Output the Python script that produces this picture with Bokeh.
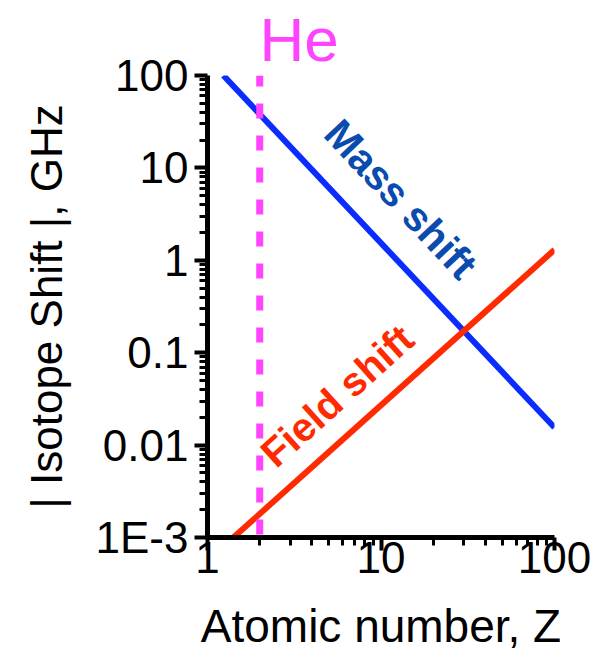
from bokeh.plotting import figure
from bokeh.models import FixedTicker, Label
from bokeh.embed import file_html
from bokeh.resources import INLINE

# ---- data ----
mass_z = [1.235, 100.0]
mass_shift = [100.0, 0.0155]
field_z = [1.41, 100.0]
field_shift = [0.001, 1.3]
he_z = [2.0, 2.0]
he_y = [100.0, 0.001]

x_ticks = [1, 10, 100]
x_tick_labels = ["1", "10", "100"]
y_ticks = [0.001, 0.01, 0.1, 1, 10, 100]
y_tick_labels = ["1E-3", "0.01", "0.1", "1", "10", "100"]

FONT = "Liberation Sans"

def minors(lo_exp, hi_exp):
    out = []
    for e in range(lo_exp, hi_exp):
        for k in range(2, 10):
            out.append(k * 10.0 ** e)
    return out

p = figure(width=615, height=654, x_axis_type="log", y_axis_type="log",
           x_range=(1, 100), y_range=(0.001, 100),
           output_backend="svg", toolbar_location=None,
           min_border_left=207, min_border_right=61,
           min_border_top=74, min_border_bottom=117)
p.outline_line_color = None
p.xgrid.visible = False
p.ygrid.visible = False
p.background_fill_color = "white"
p.border_fill_color = "white"

# "He" marker label as title above the frame
p.title.text = "He"
p.title.align = "left"
p.title.offset = 52
p.title.standoff = 4
p.title.text_font = FONT
p.title.text_font_size = "62px"
p.title.text_font_style = "normal"
p.title.text_color = "#ff44ff"

# lines
p.line(mass_z, mass_shift, line_color="#0a2cff", line_width=6)
p.line(field_z, field_shift, line_color="#ff2a00", line_width=6)
p.line(he_z, he_y, line_color="#ff44ff", line_width=7,
       line_dash="15 17", line_dash_offset=4)

# axes
for ax in (p.xaxis[0], p.yaxis[0]):
    ax.axis_line_width = 5
    ax.axis_line_color = "black"
    ax.major_tick_out = 13
    ax.major_tick_in = 0
    ax.minor_tick_out = 8
    ax.minor_tick_in = 0
    ax.major_tick_line_width = 4
    ax.minor_tick_line_width = 3
    ax.major_tick_line_color = "black"
    ax.minor_tick_line_color = "black"
    ax.major_label_text_font = FONT
    ax.major_label_text_font_size = "44px"
    ax.major_label_text_color = "black"
    ax.axis_label_text_font = FONT
    ax.axis_label_text_font_style = "normal"
    ax.axis_label_text_color = "black"

p.xaxis.ticker = FixedTicker(ticks=x_ticks, minor_ticks=minors(0, 2))
p.yaxis.ticker = FixedTicker(ticks=y_ticks, minor_ticks=minors(-3, 2))
p.xaxis.major_label_overrides = dict(zip(x_ticks, x_tick_labels))
p.yaxis.major_label_overrides = dict(zip(y_ticks, y_tick_labels))

p.xaxis.major_label_standoff = -9
p.yaxis.major_label_standoff = 6

p.xaxis.axis_label = "Atomic number, Z"
p.xaxis.axis_label_text_font_size = "46px"
p.xaxis.axis_label_standoff = 24
p.yaxis.axis_label = "| Isotope Shift |, GHz"
p.yaxis.axis_label_text_font_size = "44px"
p.yaxis.axis_label_standoff = 22

# line annotations
p.add_layout(Label(x=13.0, y=4.58, text="Mass shift", text_font=FONT,
                   text_font_size="41px", text_font_style="bold",
                   text_color="#0a4bb0", text_align="center",
                   text_baseline="middle", angle=-46.8, angle_units="deg"))
p.add_layout(Label(x=5.58, y=0.0342, text="Field shift", text_font=FONT,
                   text_font_size="40px", text_font_style="bold",
                   text_color="#ff2a00", text_align="center",
                   text_baseline="middle", angle=42, angle_units="deg"))

open("out.html", "w").write(file_html(p, INLINE))
